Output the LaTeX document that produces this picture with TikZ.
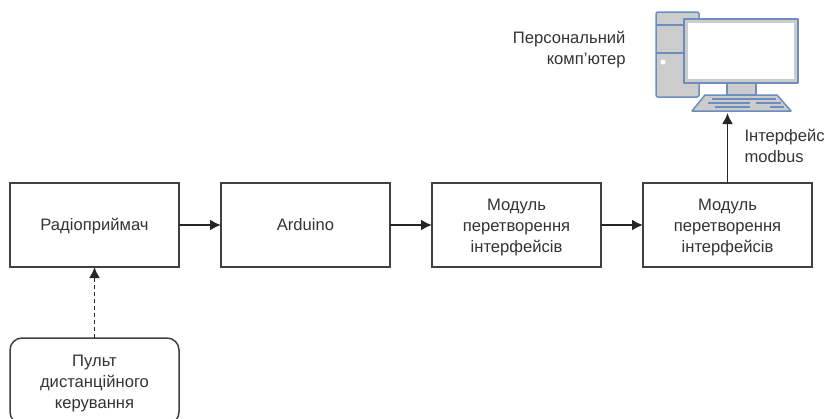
\documentclass[tikz,border=0pt]{standalone}
\usepackage{fontspec}
\setmainfont{Liberation Sans}
\usepackage{tikz}
\usetikzlibrary{positioning, arrows.meta}
\definecolor{iconblue}{HTML}{6C8EBF}
\definecolor{icongray}{HTML}{CCCCCC}
\newcommand{\topgap}[1]{\rule{0pt}{#1pt}}

\begin{document}
\begin{tikzpicture}[
        x=1pt, y=-1pt,
        node distance=42pt,
        every node/.style={font=\fontsize{16.6}{21}\selectfont, text=black!80, outer sep=0pt},
        blockbox/.style={draw=black!75, line width=1.5pt, fill=white, minimum width=169pt, minimum height=84pt, inner sep=0pt, align=center},
        remotebox/.style={blockbox, rounded corners=12pt, minimum height=86pt},
        label/.style={inner sep=0pt},
        link/.style={draw=black!85, line width=1.9pt, -{Latex[length=11pt, width=11pt]}},
        iconpart/.style={draw=iconblue, line width=1.5pt, fill=icongray, line join=round}
        ]

        \useasboundingbox (0,0) rectangle (825,418);
        \clip (0,0) rectangle (825,418);

        \node[blockbox] (radio) at (94.5,225) {\topgap{14}Радіоприймач};
        \node[blockbox, right=of radio] (arduino) {\topgap{14}\rule[-4pt]{0pt}{0pt}Arduino};
        \node[blockbox, right=of arduino] (moduleA) {\topgap{16}Модуль\\перетворення\\інтерфейсів};
        \node[blockbox, right=of moduleA] (moduleB) {\topgap{16}Модуль\\перетворення\\інтерфейсів};
        \node[remotebox] (remote) at (94.5,381) {\topgap{16}Пульт\\дистанційного\\керування};

        \draw[iconpart, rounded corners=2pt] (656,12) rectangle (699,97);
        \draw[iconpart] (656,25) -- (684,25) (656,53) -- (684,53);
        \fill[white] (663,62) circle (2.5pt);
        \draw[iconpart] (727,83) rectangle (756,95);
        \draw[iconpart] (684,19) rectangle (798,83);
        \fill[white] (688,23) rectangle (794,79);
        \draw[iconpart] (705,95) -- (777,95) -- (791,111) -- (692,111) -- cycle;
        \draw[iconpart] (712,99) -- (776,99) (708,103) -- (750,103) (756,103) -- (781,103) (715,107) -- (750,107) (770,107) -- (784,107);
        \coordinate (keyboard) at (727.5,113);

        \node[label, align=right, anchor=east] (pclabel) at (625.5,50) {Персональний\\комп\symbol{39}ютер};
        \node[label, align=left, anchor=west] (buslabel) at (744.5,146) {Інтерфейс\\modbus};

        \draw[link] (radio) -- (arduino);
        \draw[link] (arduino) -- (moduleA);
        \draw[link] (moduleA) -- (moduleB);
        \draw[link] (moduleB) -- (keyboard);
        \draw[link, dash pattern=on 4pt off 3pt] (remote) -- (radio);
\end{tikzpicture}
\end{document}
